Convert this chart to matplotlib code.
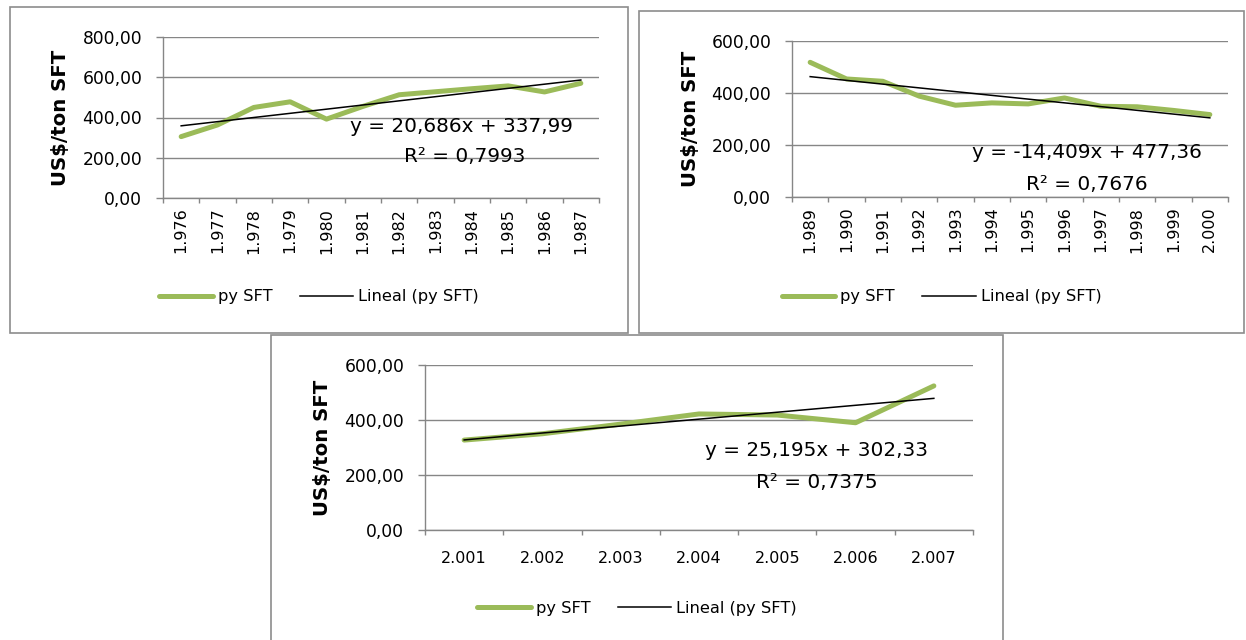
import matplotlib
matplotlib.use("Agg")
import matplotlib.pyplot as plt
from matplotlib.patches import Rectangle
import numpy as np

W, H = 1246, 640
GREEN = "#9BBB59"
GRID = "#868686"
BOX = "#8C8C8C"

# ---- data -------------------------------------------------------------------
years_a = ["1.976", "1.977", "1.978", "1.979", "1.980", "1.981",
           "1.982", "1.983", "1.984", "1.985", "1.986", "1.987"]
price_a = [305, 363, 450, 478, 392, 455, 513, 528, 543, 557, 527, 570]
slope_a, icept_a = 20.686, 337.99
eq_a, r2_a = "y = 20,686x + 337,99", "R² = 0,7993"

years_b = ["1.989", "1.990", "1.991", "1.992", "1.993", "1.994",
           "1.995", "1.996", "1.997", "1.998", "1.999", "2.000"]
price_b = [518, 454, 445, 388, 353, 362, 358, 381, 349, 347, 333, 317]
slope_b, icept_b = -14.409, 477.36
eq_b, r2_b = "y = -14,409x + 477,36", "R² = 0,7676"

years_c = ["2.001", "2.002", "2.003", "2.004", "2.005", "2.006", "2.007"]
price_c = [327, 350, 385, 422, 418, 390, 524]
slope_c, icept_c = 25.195, 302.33
eq_c, r2_c = "y = 25,195x + 302,33", "R² = 0,7375"


def fx(x):
    return x / W


def fy(y):
    return 1 - y / H


def panel(fig, plot_px, box_px, cats, vals, slope, icept, eq, r2, ymax,
          rot, xpad, ylab_x, eq1, eq2, leg_y):
    l, t, r, b = plot_px
    fig.add_artist(Rectangle((fx(box_px[0]), fy(box_px[3])),
                             (box_px[2] - box_px[0]) / W, (box_px[3] - box_px[1]) / H,
                             transform=fig.transFigure, fill=False, ec=BOX, lw=1.2))
    ax = fig.add_axes([fx(l), fy(b), (r - l) / W, (b - t) / H])
    n = len(cats)
    x = np.arange(n)
    ax.plot(x, vals, color=GREEN, lw=3.6, solid_capstyle="round",
            solid_joinstyle="round", label="py SFT")
    ax.plot(x, slope * (x + 1) + icept, color="black", lw=1.1, label="Lineal (py SFT)")

    ax.set_xlim(-0.5, n - 0.5)
    ax.set_ylim(0, ymax)
    yt = np.arange(0, ymax + 1, 200)
    ax.set_yticks(yt)
    ax.set_yticklabels([f"{v:.2f}".replace(".", ",") for v in yt], fontsize=12.3)
    ax.yaxis.grid(True, color=GRID, lw=1.0)
    ax.set_axisbelow(True)
    ax.set_xticks(x)
    ax.set_xticklabels(cats, rotation=rot, fontsize=11.5)
    ax.set_xticks(np.arange(n + 1) - 0.5, minor=True)
    ax.tick_params(axis="x", which="major", length=0, pad=xpad)
    ax.tick_params(axis="x", which="minor", length=3.5, color=GRID, width=1.0)
    ax.tick_params(axis="y", length=5, color=GRID, width=1.0, pad=10)
    for s in ("top", "right"):
        ax.spines[s].set_visible(False)
    for s in ("left", "bottom"):
        ax.spines[s].set_color(GRID)
        ax.spines[s].set_linewidth(1.0)

    ax.set_ylabel("US$/ton SFT", fontsize=14.2, fontweight="bold")
    ax.yaxis.set_label_coords((ylab_x - l) / (r - l), 0.5)

    fig.text(fx(eq1[0]), fy(eq1[1]), eq, fontsize=14.4, ha="center", va="center")
    fig.text(fx(eq2[0]), fy(eq2[1]), r2, fontsize=14.4, ha="center", va="center")

    ax.legend(loc="center", bbox_to_anchor=(fx((box_px[0] + box_px[2]) / 2), fy(leg_y)),
              bbox_transform=fig.transFigure, ncol=2, frameon=False, fontsize=11.7,
              handlelength=3.3, handletextpad=0.3, columnspacing=1.7)
    return ax


fig = plt.figure(figsize=(W / 100, H / 100), dpi=100)

panel(fig, (163, 37, 599, 198), (10, 7, 628, 333), years_a, price_a,
      slope_a, icept_a, eq_a, r2_a, 800, 90, 7, 70, (461, 127), (465, 157), 297)
panel(fig, (792, 41, 1228, 197), (639, 11, 1244, 333), years_b, price_b,
      slope_b, icept_b, eq_b, r2_b, 600, 90, 7, 700, (1087, 153), (1087, 184), 297)
panel(fig, (425, 365, 973, 530), (271, 335, 1003, 650), years_c, price_c,
      slope_c, icept_c, eq_c, r2_c, 600, 0, 15, 332, (817, 450), (817, 483), 608)

fig.savefig("out.png", dpi=100)
